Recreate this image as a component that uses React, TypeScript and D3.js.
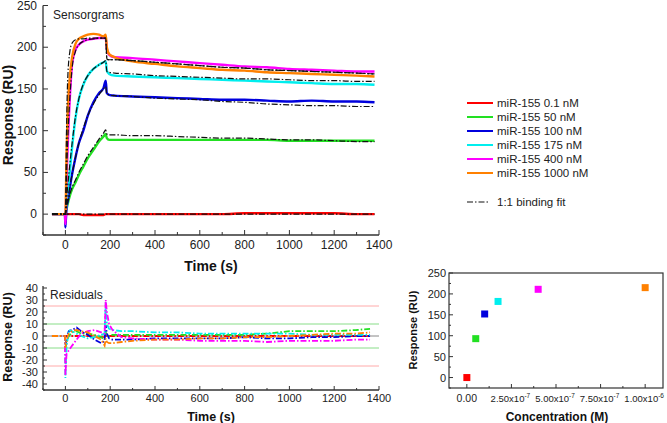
import React from 'react';
import * as d3 from 'd3';

// sensorgram time grid (s) and responses (RU)
const T = [-60, -2, 0, 5, 10, 20, 30, 45, 60, 80, 100, 125, 150, 170, 180, 185, 195, 220, 300, 400, 500, 600, 700, 800, 900, 1000, 1100, 1200, 1300, 1380];
const R_01 = [0, 0, 0, 0, 0, 0, 0, 0, 0, -1, -1, -1, -1, -1, 0, 0, 0, 0, 0, 0, 0, 0, 0, 1, 1, 1, 1, 1, 0, 0];
const R_50 = [0, 0, 0, 6, 12, 22, 30, 38, 47, 57, 67, 77, 87, 93, 96, 91, 89, 89, 89, 89, 89, 89, 89, 89, 89, 88, 88, 88, 88, 88];
const R_100 = [0, 0, -16, 8, 15, 32, 48, 68, 85, 100, 118, 134, 145, 151, 160, 145, 143, 142, 141, 140, 139, 138, 137, 137, 136, 135, 136, 135, 135, 134];
const R_175 = [0, 0, 0, 15, 28, 52, 80, 115, 138, 155, 166, 174, 179, 182, 183, 172, 168, 166, 165, 164, 163, 162, 161, 160, 159, 158, 157, 156, 156, 155];
const R_400 = [0, 0, -12, 40, 80, 140, 180, 197, 203, 207, 209, 210, 211, 211, 211, 198, 191, 188, 187, 185, 183, 181, 179, 177, 176, 174, 173, 172, 171, 171];
const R_1000 = [0, 0, 0, 70, 120, 165, 188, 204, 210, 213, 215, 216, 215, 213, 215, 200, 192, 188, 183, 180, 177, 175, 173, 172, 170, 169, 168, 167, 166, 165];

// 1:1 binding fits
const F_01 = [0, 0, 0, 0, 0, 0, 0, 0, 0, 0, 0, 0, 0, 0, 0, 0, 0, 0, 0, 0, 0, 0, 0, 0, 0, 0, 0, 0, 0, 0];
const F_50 = [0, 0, 0, 8, 14, 24, 32, 41, 50, 60, 70, 80, 90, 97, 101, 96, 95, 95, 94, 94, 93, 92, 91, 91, 90, 89, 89, 88, 87, 87];
const F_100 = [0, 0, 0, 10, 18, 33, 48, 68, 85, 103, 118, 132, 143, 150, 153, 144, 143, 142, 141, 139, 138, 137, 135, 134, 132, 131, 130, 130, 129, 129];
const F_175 = [0, 0, 0, 18, 33, 60, 85, 117, 138, 156, 166, 174, 179, 182, 184, 171, 170, 169, 168, 166, 165, 164, 163, 162, 162, 161, 160, 160, 159, 159];
const F_400 = [0, 0, 0, 45, 85, 140, 175, 195, 203, 207, 209, 210, 211, 211, 211, 186, 185, 185, 184, 182, 180, 178, 176, 175, 173, 172, 171, 170, 169, 168];
const F_1000 = [0, 0, 0, 100, 160, 195, 205, 209, 210, 210, 211, 211, 211, 211, 211, 186, 185, 185, 184, 182, 180, 178, 176, 175, 173, 172, 171, 170, 169, 168];

// residuals
const RT = [-60, -2, 0, 5, 15, 30, 50, 70, 100, 130, 160, 175, 180, 185, 195, 210, 250, 300, 400, 500, 600, 700, 800, 900, 1000, 1100, 1200, 1300, 1360];
const RES_01 = [0, 0, 0, 0, 0, 0, 0, 0, 0, 0, -1, -1, 0, 0, 0, 0, 0, 0, 0, 0, 0, 0, 0, 0, 0, 0, 0, 0, 0];
const RES_50 = [0, 0, -10, -5, 0, 3, 4, 2, 2, 1, -1, -3, 3, 1, 0, 1, 1, 1, 1, 1, 1, 1, 1, 2, 4, 4, 4, 5, 6];
const RES_100 = [0, 0, -8, -2, 4, 5, 7, 4, 1, -3, -6, -4, 9, 2, -2, -3, -3, -3, -2, -2, -2, -2, -1, -2, -2, -1, -1, 0, 0];
const RES_175 = [0, 0, -35, -10, 5, 4, 2, 0, -2, -1, 1, 2, 28, 10, 6, 5, 4, 4, 3, 3, 2, 2, 2, 2, 2, 1, 1, 1, 1];
const RES_400 = [0, 0, -33, -15, -12, -8, -3, 2, 4, 5, 3, 2, 30, 20, 10, 5, -1, -2, -3, -3, -4, -4, -4, -5, -4, -4, -4, -3, -3];
const RES_1000 = [0, 0, -10, -3, 2, 4, 5, 4, 3, 0, -3, -8, -2, -5, -6, -6, -5, -4, -3, -3, -2, -2, -1, -1, 0, 1, 2, 2, 3];

// steady-state responses vs concentration
const CONC = [1e-10, 5e-8, 1e-7, 1.75e-7, 4e-7, 1e-6];
const RMAX = [0, 93, 152, 182, 211, 215];

const LABELS = ['miR-155 0.1 nM', 'miR-155 50 nM', 'miR-155 100 nM', 'miR-155 175 nM', 'miR-155 400 nM', 'miR-155 1000 nM'];
const COLORS = ['#ff0000', '#22e022', '#0000dd', '#00eeee', '#ff00ff', '#ff8000'];

const RESP = [R_01, R_50, R_100, R_175, R_400, R_1000];
const FITS = [F_01, F_50, F_100, F_175, F_400, F_1000];
const RESID = [RES_01, RES_50, RES_100, RES_175, RES_400, RES_1000];

const TIME_TICKS = [0, 200, 400, 600, 800, 1000, 1200, 1400];
const SENS_TICKS = [0, 50, 100, 150, 200, 250];
const RES_TICKS = [-40, -30, -20, -10, 0, 10, 20, 30, 40];
const CONC_TICKS = [0, 2.5e-7, 5e-7, 7.5e-7, 1e-6];
const CONC_LABELS = [['0.00', ''], ['2.50x10', '-7'], ['5.00x10', '-7'], ['7.50x10', '-7'], ['1.00x10', '-6']];

const FONT = 'Liberation Sans, Arial, sans-serif';
const AX = '#333';
const DASHDOT = '6,2,1.5,2';

const App = () => {
  // top panel
  const x1 = d3.scaleLinear().domain([-100, 1400]).range([43, 379]);
  const y1 = d3.scaleLinear().domain([-25, 250]).range([235, 5.5]);
  // residual panel
  const y2 = d3.scaleLinear().domain([-45, 40]).range([390, 288]);
  // scatter panel
  const x3 = d3.scaleLinear().domain([-1e-7, 1.1e-6]).range([449, 663]);
  const y3 = d3.scaleLinear().domain([-25, 250]).range([388, 273]);

  const sensLine = (vals: number[]) =>
    d3.line<number>().x((_, i) => x1(T[i])).y(d => y1(d)).curve(d3.curveMonotoneX)(vals) || '';
  const resLine = (vals: number[]) =>
    d3.line<number>().x((_, i) => x1(RT[i])).y(d => y2(d))(vals) || '';

  const minorTime = d3.range(-100, 1401, 100);

  return (
    <svg width={667} height={423} style={{ position: 'absolute', left: 0, top: 0, background: '#fff' }} fontFamily={FONT}>
      {/* ---------- sensorgrams ---------- */}
      <g>
        {RESP.map((r, i) => (
          <path key={'r' + i} d={sensLine(r)} fill="none" stroke={COLORS[i]} strokeWidth={2.4} />
        ))}
        {FITS.map((f, i) => (
          <path key={'f' + i} d={sensLine(f)} fill="none" stroke="#111" strokeWidth={1.2} strokeDasharray={DASHDOT} />
        ))}
        <line x1={43} x2={43} y1={y1(250)} y2={235} stroke={AX} strokeWidth={1.3} />
        <line x1={43} x2={379} y1={235} y2={235} stroke={AX} strokeWidth={1.3} />
        {minorTime.map(t => (
          <line key={'mt' + t} x1={x1(t)} x2={x1(t)} y1={235} y2={TIME_TICKS.includes(t) ? 230 : 232} stroke={AX} strokeWidth={1} />
        ))}
        {TIME_TICKS.map(t => (
          <text key={'tt' + t} x={x1(t)} y={249} fontSize={12} textAnchor="middle" fill="#222">{t}</text>
        ))}
        {d3.range(-25, 251, 25).map(v => (
          <line key={'yt' + v} x1={43} x2={SENS_TICKS.includes(v) ? 48 : 46} y1={y1(v)} y2={y1(v)} stroke={AX} strokeWidth={1} />
        ))}
        {SENS_TICKS.map(v => (
          <text key={'yl' + v} x={37} y={y1(v) + 4} fontSize={12} textAnchor="end" fill="#222">{v}</text>
        ))}
        <text x={53} y={19} fontSize={12} fill="#222">Sensorgrams</text>
        <text x={211} y={271} fontSize={14} fontWeight="bold" textAnchor="middle" fill="#111">Time (s)</text>
        <text transform={`translate(13,${115}) rotate(-90)`} fontSize={14} fontWeight="bold" textAnchor="middle" fill="#111">Response (RU)</text>
      </g>

      {/* ---------- legend ---------- */}
      <g>
        {LABELS.map((l, i) => (
          <g key={'lg' + i}>
            <line x1={467} x2={493} y1={103 + i * 14} y2={103 + i * 14} stroke={COLORS[i]} strokeWidth={2} />
            <text x={497} y={107 + i * 14} fontSize={11.5} fill="#222">{l}</text>
          </g>
        ))}
        <line x1={467} x2={489} y1={202} y2={202} stroke="#111" strokeWidth={1.2} strokeDasharray={DASHDOT} />
        <text x={497} y={206} fontSize={11.5} fill="#222">1:1 binding fit</text>
      </g>

      {/* ---------- residuals ---------- */}
      <g>
        {[-25, 25].map(v => (
          <line key={'p' + v} x1={43} x2={379} y1={y2(v)} y2={y2(v)} stroke="#ffaaaa" strokeWidth={1} />
        ))}
        {[-10, 10].map(v => (
          <line key={'g' + v} x1={43} x2={379} y1={y2(v)} y2={y2(v)} stroke="#88dd88" strokeWidth={1} />
        ))}
        <line x1={43} x2={379} y1={y2(0)} y2={y2(0)} stroke="#888" strokeWidth={1} />
        {RESID.map((r, i) => (
          <path key={'res' + i} d={resLine(r)} fill="none" stroke={COLORS[i]} strokeWidth={1.8} strokeDasharray={DASHDOT} />
        ))}
        <line x1={43} x2={43} y1={y2(40) - 2} y2={390} stroke={AX} strokeWidth={1.3} />
        <line x1={43} x2={379} y1={390} y2={390} stroke={AX} strokeWidth={1.3} />
        {minorTime.map(t => (
          <line key={'rmt' + t} x1={x1(t)} x2={x1(t)} y1={390} y2={TIME_TICKS.includes(t) ? 386 : 388} stroke={AX} strokeWidth={1} />
        ))}
        {TIME_TICKS.map(t => (
          <text key={'rtt' + t} x={x1(t)} y={402} fontSize={11} textAnchor="middle" fill="#222">{t}</text>
        ))}
        {d3.range(-45, 41, 5).map(v => (
          <line key={'ryt' + v} x1={43} x2={RES_TICKS.includes(v) ? 47 : 45} y1={y2(v)} y2={y2(v)} stroke={AX} strokeWidth={1} />
        ))}
        {RES_TICKS.map(v => (
          <text key={'ryl' + v} x={38} y={y2(v) + 4} fontSize={11} textAnchor="end" fill="#222">{v}</text>
        ))}
        <text x={50} y={299} fontSize={12} fill="#222">Residuals</text>
        <text x={211} y={421} fontSize={12.5} fontWeight="bold" textAnchor="middle" fill="#111">Time (s)</text>
        <text transform={`translate(12,${337}) rotate(-90)`} fontSize={12.5} fontWeight="bold" textAnchor="middle" fill="#111">Response (RU)</text>
      </g>

      {/* ---------- concentration plot ---------- */}
      <g>
        <rect x={449} y={273} width={214} height={115} fill="none" stroke={AX} strokeWidth={1.2} />
        {CONC.map((c, i) => (
          <rect key={'sq' + i} x={x3(c) - 3.5} y={y3(RMAX[i]) - 3.5} width={7} height={7} fill={COLORS[i]} />
        ))}
        {d3.range(-25, 251, 25).map(v => (
          <line key={'syt' + v} x1={449} x2={SENS_TICKS.includes(v) ? 453 : 451} y1={y3(v)} y2={y3(v)} stroke={AX} strokeWidth={1} />
        ))}
        {SENS_TICKS.map(v => (
          <text key={'syl' + v} x={446} y={y3(v) + 4} fontSize={11} textAnchor="end" fill="#222">{v}</text>
        ))}
        {d3.range(0, 9).map(k => k * 1.25e-7).map((c, k) => (
          <line key={'sxt' + k} x1={x3(c)} x2={x3(c)} y1={388} y2={k % 2 === 0 ? 384 : 386} stroke={AX} strokeWidth={1} />
        ))}
        {CONC_TICKS.map((c, i) => (
          <text key={'sxl' + i} x={CONC_LABELS[i][1] ? x3(c) - 1 : x3(c)} y={402} fontSize={i === 0 ? 10.5 : 9.5} textAnchor="middle" fill="#222">
            {CONC_LABELS[i][0]}
            {CONC_LABELS[i][1] && <tspan dy={-4} fontSize={6.5}>{CONC_LABELS[i][1]}</tspan>}
          </text>
        ))}
        <text x={557} y={421} fontSize={12} fontWeight="bold" textAnchor="middle" fill="#111">Concentration (M)</text>
        <text transform={`translate(417,${330}) rotate(-90)`} fontSize={11} fontWeight="bold" textAnchor="middle" fill="#111">Response (RU)</text>
      </g>
    </svg>
  );
};

export default App;
